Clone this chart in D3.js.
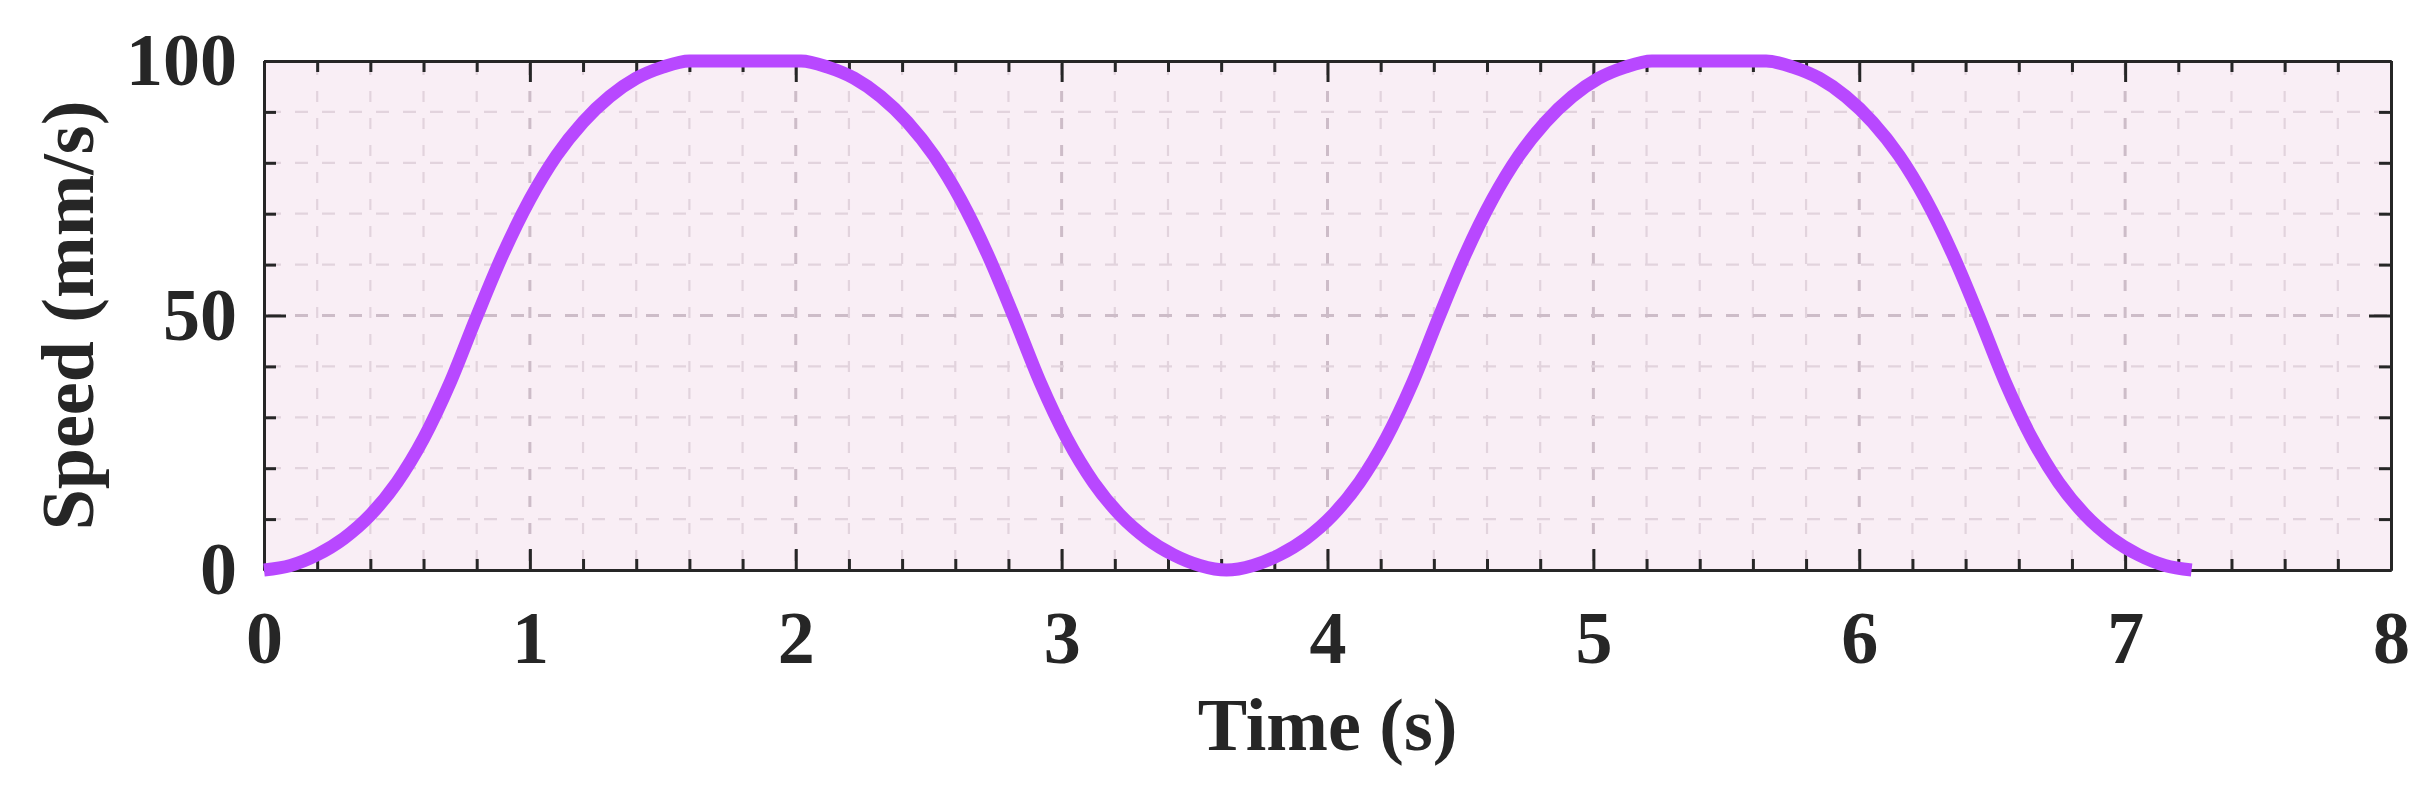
<!DOCTYPE html>
<html>
<head>
<meta charset="utf-8">
<script src="https://cdn.jsdelivr.net/npm/d3@7"></script>
<style>
  html, body { margin: 0; padding: 0; background: #ffffff; }
  svg { display: block; }
  text { font-family: "Liberation Serif", "Times New Roman", serif; font-weight: bold; fill: #262626; }
</style>
</head>
<body>
<svg id="chart" width="2433" height="797"></svg>
<script>
// ---- data ----
const times  = [0.00, 0.10, 0.20, 0.30, 0.40, 0.50, 0.60, 0.70, 0.80, 0.90, 1.00, 1.10, 1.20, 1.30, 1.40, 1.50, 1.60,
                2.02, 2.12, 2.22, 2.32, 2.42, 2.52, 2.62, 2.72, 2.82, 2.92, 3.02, 3.12, 3.22, 3.32, 3.42, 3.52, 3.62,
                3.72, 3.82, 3.92, 4.02, 4.12, 4.22, 4.32, 4.42, 4.52, 4.62, 4.72, 4.82, 4.92, 5.02, 5.12, 5.22,
                5.65, 5.75, 5.85, 5.95, 6.05, 6.15, 6.25, 6.35, 6.45, 6.55, 6.65, 6.75, 6.85, 6.95, 7.05, 7.15, 7.25];
const speeds = [0, 0.9, 3.0, 6.2, 10.8, 17.2, 25.8, 36.8, 49.8, 62.2, 72.8, 81.4, 88.0, 93.0, 96.6, 98.8, 100,
                100, 98.8, 96.6, 93.0, 88.0, 81.4, 72.8, 62.2, 49.8, 36.8, 25.8, 17.2, 10.8, 6.2, 3.0, 0.9, 0,
                0.9, 3.0, 6.2, 10.8, 17.2, 25.8, 36.8, 49.8, 62.2, 72.8, 81.4, 88.0, 93.0, 96.6, 98.8, 100,
                100, 98.8, 96.6, 93.0, 88.0, 81.4, 72.8, 62.2, 49.8, 36.8, 25.8, 17.2, 10.8, 6.2, 3.0, 0.9, 0];
const xTickValues = [0, 1, 2, 3, 4, 5, 6, 7, 8];
const yTickValues = [0, 50, 100];
const xLabel = "Time (s)";
const yLabel = "Speed (mm/s)";

// ---- layout ----
const L = 264, R = 2391, T = 61, B = 570;
const svg = d3.select("#chart");
const x = d3.scaleLinear().domain([0, 8]).range([L, R]);
const y = d3.scaleLinear().domain([0, 100]).range([B, T]);

const xMinor = d3.range(0, 41).map(i => i / 5).filter(v => !xTickValues.includes(v));
const yMinor = d3.range(0, 11).map(i => i * 10).filter(v => !yTickValues.includes(v));
const xGridAll = d3.range(1, 40).map(i => i / 5);
const yGridAll = d3.range(1, 10).map(i => i * 10);

// background
svg.append("rect").attr("x", L).attr("y", T).attr("width", R - L).attr("height", B - T)
  .attr("fill", "#f9eef5");

// grid
const grid = svg.append("g");
grid.selectAll("line.vg").data(xGridAll).join("line")
  .attr("x1", d => x(d)).attr("x2", d => x(d))
  .attr("y1", T).attr("y2", B)
  .attr("stroke", d => Number.isInteger(d) ? "#cdbcc8" : "#e2d3dd")
  .attr("stroke-width", d => Number.isInteger(d) ? 3 : 2.2)
  .attr("stroke-dasharray", "11,16")
  .attr("stroke-dashoffset", -3);
grid.selectAll("line.hg").data(yGridAll).join("line")
  .attr("x1", L).attr("x2", R)
  .attr("y1", d => y(d)).attr("y2", d => y(d))
  .attr("stroke", d => d === 50 ? "#cdbcc8" : "#e2d3dd")
  .attr("stroke-width", d => d === 50 ? 3 : 2.2)
  .attr("stroke-dasharray", "13,14")
  .attr("stroke-dashoffset", -4);

// axes
function styleAxis(g) {
  g.selectAll("path.domain").attr("stroke", "#262626").attr("stroke-width", 3);
  g.selectAll(".tick line").attr("stroke", "#262626").attr("stroke-width", 3);
  g.selectAll(".tick text").style("font-size", "74px").attr("fill", "#262626");
}
const fmt = d3.format("d");

svg.append("g").attr("transform", `translate(0,${B})`)
  .call(d3.axisBottom(x).tickValues(xMinor).tickSize(-11).tickSizeOuter(0).tickFormat(""))
  .call(styleAxis);
svg.append("g").attr("transform", `translate(0,${B})`)
  .call(d3.axisBottom(x).tickValues(xTickValues).tickSize(-21).tickSizeOuter(0).tickPadding(40).tickFormat(fmt))
  .call(styleAxis);
svg.append("g").attr("transform", `translate(0,${T})`)
  .call(d3.axisTop(x).tickValues(xMinor).tickSize(-11).tickSizeOuter(0).tickFormat(""))
  .call(styleAxis);
svg.append("g").attr("transform", `translate(0,${T})`)
  .call(d3.axisTop(x).tickValues(xTickValues).tickSize(-21).tickSizeOuter(0).tickFormat(""))
  .call(styleAxis);
svg.append("g").attr("transform", `translate(${L},0)`)
  .call(d3.axisLeft(y).tickValues(yMinor).tickSize(-12).tickSizeOuter(0).tickFormat(""))
  .call(styleAxis);
svg.append("g").attr("transform", `translate(${L},0)`)
  .call(d3.axisLeft(y).tickValues(yTickValues).tickSize(-22).tickSizeOuter(0).tickPadding(27).tickFormat(fmt))
  .call(styleAxis);
svg.append("g").attr("transform", `translate(${R},0)`)
  .call(d3.axisRight(y).tickValues(yMinor).tickSize(-12).tickSizeOuter(0).tickFormat(""))
  .call(styleAxis);
svg.append("g").attr("transform", `translate(${R},0)`)
  .call(d3.axisRight(y).tickValues(yTickValues).tickSize(-22).tickSizeOuter(0).tickFormat(""))
  .call(styleAxis);

// curve
const pts = times.map((t, i) => [t, speeds[i]]);
svg.append("path").datum(pts)
  .attr("fill", "none")
  .attr("stroke", "#b848ff")
  .attr("stroke-width", 13)
  .attr("stroke-linejoin", "round")
  .attr("d", d3.line().x(d => x(d[0])).y(d => y(d[1])).curve(d3.curveMonotoneX));

// axis labels
svg.append("text").attr("x", (L + R) / 2).attr("y", 750)
  .attr("text-anchor", "middle").style("font-size", "74px").text(xLabel);
svg.append("text").attr("transform", `translate(93,${(T + B) / 2}) rotate(-90)`)
  .attr("text-anchor", "middle").style("font-size", "74px").text(yLabel);
</script>
</body>
</html>
